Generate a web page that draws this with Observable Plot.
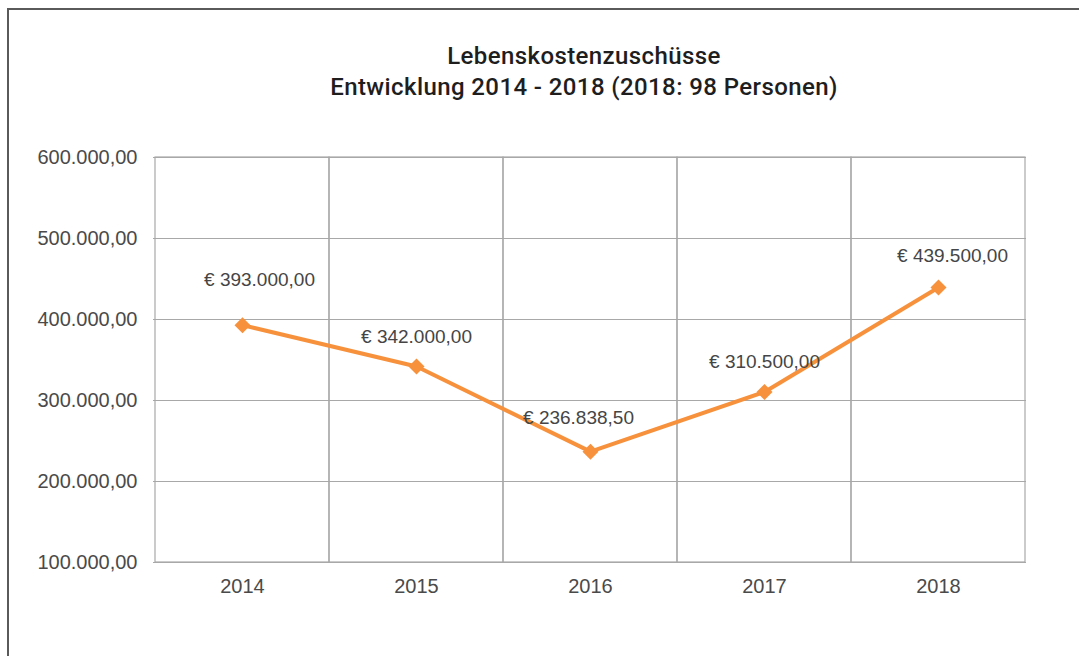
<!DOCTYPE html>
<html>
<head>
<meta charset="utf-8">
<script src="https://cdn.jsdelivr.net/npm/d3@7"></script>
<script src="https://cdn.jsdelivr.net/npm/@observablehq/plot@0.6"></script>
<style>
  html, body { margin: 0; padding: 0; background: #fff; }
  #wrap { position: relative; width: 1079px; height: 656px; overflow: hidden; background: #fff; }
  #frame { position: absolute; left: 7px; top: 8px; right: -10px; bottom: -10px;
           border-left: 2px solid #5a5a5a; border-top: 2px solid #5a5a5a; }
  #title { position: absolute; left: 0; top: 41px; width: 1168px; text-align: center;
           font-family: Roboto, "Liberation Sans", Arial, sans-serif; font-size: 24px; font-weight: 500;
           letter-spacing: 0.4px; color: #1e1e1e; line-height: 31px; }
  #chart { position: absolute; left: 0; top: 140px; }
</style>
</head>
<body>
<div id="wrap">
  <div id="frame"></div>
  <div id="title">Lebenskostenzuschüsse<br>Entwicklung 2014 - 2018 (2018: 98 Personen)</div>
  <div id="chart"></div>
</div>
<script>
const years = ["2014", "2015", "2016", "2017", "2018"];
const values = [393000, 342000, 236838.5, 310500, 439500];
const yTicks = [100000, 200000, 300000, 400000, 500000, 600000];

const data = years.map((y, i) => ({year: y, value: values[i]}));

const de = d3.formatLocale({decimal: ",", thousands: ".", grouping: [3], currency: ["€ ", ""]});
const fmtNum = de.format(",.2f");
const fmtEur = de.format("$,.2f");

const orange = "#f7913c";
const grid = "#a8a8a8";
const font = "'Liberation Sans', Arial, sans-serif";
const labelColor = "#454545";

const chart = Plot.plot({
  width: 1079,
  height: 516,
  marginLeft: 153,
  marginRight: 53,
  marginTop: 17,
  marginBottom: 94,
  style: {fontFamily: font, fontSize: "20px", color: "#4a4a4a", background: "transparent"},
  x: {type: "band", domain: years, padding: 0, label: null, tickSize: 0, tickPadding: 16},
  y: {domain: [100000, 600000], ticks: yTicks, tickFormat: fmtNum, label: null, tickSize: 0, tickPadding: 16},
  marks: [
    Plot.ruleY(yTicks, {stroke: grid, strokeWidth: 1.2}),
    Plot.barY(data, {x: "year", y1: 100000, y2: 600000, fill: "none", stroke: grid, strokeWidth: 1.2}),
    Plot.line(data, {x: "year", y: "value", stroke: orange, strokeWidth: 4}),
    Plot.dot(data, {x: "year", y: "value", symbol: "diamond2", r: 7.2, fill: orange, stroke: "none"}),
    Plot.text(data.filter(d => d.year === "2014"), {x: "year", y: "value", text: d => fmtEur(d.value), dy: -45, dx: 17, fill: labelColor, fontSize: 19}),
    Plot.text(data.filter(d => d.year === "2016"), {x: "year", y: "value", text: d => fmtEur(d.value), dy: -34, dx: -12, fill: labelColor, fontSize: 19}),
    Plot.text(data.filter(d => d.year === "2018"), {x: "year", y: "value", text: d => fmtEur(d.value), dy: -32, dx: 14, fill: labelColor, fontSize: 19}),
    Plot.text(data.filter(d => d.year === "2015" || d.year === "2017"), {x: "year", y: "value", text: d => fmtEur(d.value), dy: -30, fill: labelColor, fontSize: 19})
  ]
});
document.getElementById("chart").appendChild(chart);
</script>
</body>
</html>
